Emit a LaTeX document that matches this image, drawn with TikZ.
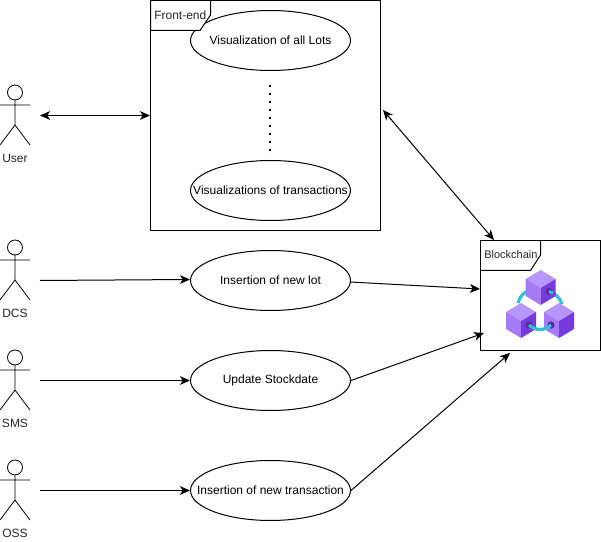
\documentclass[tikz,border=0pt]{standalone}
\usepackage{fontspec}
\setmainfont{Liberation Sans}
\usetikzlibrary{arrows.meta,shapes.geometric}
\definecolor{cubeT}{HTML}{B796F9}
\definecolor{cubeL}{HTML}{A67AF4}
\definecolor{cubeR}{HTML}{773ADC}
\definecolor{ringC}{HTML}{32BEDD}
\definecolor{holeC}{HTML}{552F99}
\newcommand{\uctext}[1]{\makebox[0pt]{#1}}
\tikzset{
  box/.style={draw=black,line width=0.75pt,fill=white},
  uc/.style={draw=black,line width=0.75pt,fill=white,ellipse,minimum width=120pt,minimum height=45pt,inner sep=0pt,font=\fontsize{9}{11}\selectfont},
  lbl/.style={font=\fontsize{9}{11}\selectfont,inner sep=0pt,text=black!85},
  stick/.style={draw=black,line width=0.6pt},
  conn/.style={draw=black,line width=0.75pt,-{Stealth[length=7.5pt,width=6.5pt,inset=2pt]}},
  conn2/.style={draw=black,line width=0.75pt,{Stealth[length=7.5pt,width=6.5pt,inset=2pt]}-{Stealth[length=7.5pt,width=6.5pt,inset=2pt]}},
  pics/actor/.style={code={
    \draw[stick] (15,7.5) circle (7.5);
    \draw[stick] (15,15) -- (15,40) (0,20) -- (30,20) (0,60) -- (15,40) -- (30,60);
  }},
  pics/cube/.style={code={
    \fill[cubeT] (0,-17) -- (15,-8) -- (0,1) -- (-15,-8) -- cycle;
    \fill[cubeL] (-15,-8) -- (0,1) -- (0,18) -- (-15,9) -- cycle;
    \fill[cubeR] (15,-8) -- (0,1) -- (0,18) -- (15,9) -- cycle;
  }}
}
\begin{document}
\begin{tikzpicture}[x=0.75pt,y=-0.75pt]
\useasboundingbox (0,0) rectangle (601,542);
% front-end frame
\node[box,minimum width=172.5pt,minimum height=172.5pt,inner sep=0pt] (front) at (265.5,115.5) {};
\node[uc] (all) at (270.5,40.5) {\uctext{Visualization of all Lots}};
\node[uc] (tx) at (270.5,190.5) {\uctext{Visualizations of transactions}};
\filldraw[box] (150.5,0.5) -- (210.5,0.5) -- (210.5,15) -- (200,30.5) -- (150.5,30.5) -- cycle;
\node[lbl,anchor=west] (fl) at (154,15) {Front-end};
\coordinate (d1) at (270,85);
\coordinate (d2) at (270,152);
\draw[line width=1.6pt,dash pattern=on 1.6pt off 4.4pt] (d1) -- (d2);
% use cases
\node[uc] (lot) at (270.5,280.5) {\uctext{Insertion of new lot}};
\node[uc] (stock) at (270.5,380.5) {\uctext{Update Stockdate}};
\node[uc] (newtx) at (270.5,490.5) {\uctext{Insertion of new transaction}};
% blockchain frame
\node[box,minimum width=90pt,minimum height=82.5pt,inner sep=0pt] (chain) at (540.5,295.5) {};
\draw[box,fill=none] (480.5,270.5) -- (530.5,270.5) -- (540.5,255) -- (540.5,240.5);
\node[lbl,anchor=west,font=\fontsize{8.25}{10}\selectfont] (bl) at (484,255) {Blockchain};
% icon
\draw[ringC,line width=2.4pt] (518,303) .. controls (520,296) and (524,292) .. (530,290);
\draw[ringC,line width=2.4pt] (549,291) .. controls (555,293) and (560,298) .. (562,304);
\pic at (540.7,287) {cube};
\pic at (521,320) {cube};
\pic at (559,320) {cube};
\fill[holeC] (529,325) circle (3.6);
\fill[holeC] (551,325) circle (3.6);
\fill[holeC] (549,291.5) circle (3.6);
\draw[ringC,line width=2.4pt] (529,325) .. controls (536,331) and (544,331) .. (551,325);
\draw[ringC,line width=2.4pt] (549,291.5) -- (553,293);
% actors
\pic at (0,85) {actor};
\pic at (0,240) {actor};
\pic at (0,350) {actor};
\pic at (0,460) {actor};
\node[lbl] (user) at (15,158) {User};
\node[lbl] (dcs) at (15,313) {DCS};
\node[lbl] (sms) at (15,423) {SMS};
\node[lbl] (oss) at (15,533) {OSS};
% connector ends
\coordinate (u1) at (40,115.5);
\coordinate (f1) at (150,115.5);
\coordinate (a2) at (40,280.5);
\coordinate (e2) at (190,279.5);
\coordinate (a3) at (40,380.5);
\coordinate (a4) at (40,490.5);
\coordinate (f2) at (383,110);
\coordinate (b0) at (494,240);
\coordinate (b1) at (480,289);
\coordinate (b2) at (484,333);
\coordinate (b3) at (510,353);
\coordinate (l1) at (350,282);
\draw[conn2] (u1) -- (f1);
\draw[conn2] (f2) -- (b0);
\draw[conn] (a2) -- (e2);
\draw[conn] (a3) -- (stock.west);
\draw[conn] (a4) -- (newtx.west);
\draw[conn] (l1) -- (b1);
\draw[conn] (stock.east) -- (b2);
\draw[conn] (newtx.east) -- (b3);
\end{tikzpicture}
\end{document}
